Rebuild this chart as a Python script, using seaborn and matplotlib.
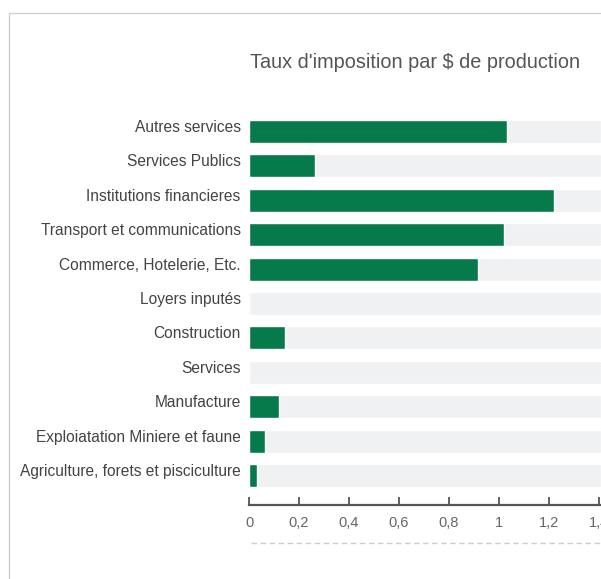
import matplotlib
matplotlib.use("Agg")
import matplotlib.pyplot as plt
import matplotlib.transforms as mtransforms
from matplotlib.patches import Rectangle
import seaborn as sns
import pandas as pd

# Tax rate per dollar of output, by sector
sectors = [
    "Autres services",
    "Services Publics",
    "Institutions financieres",
    "Transport et communications",
    "Commerce, Hotelerie, Etc.",
    "Loyers inputés",
    "Construction",
    "Services",
    "Manufacture",
    "Exploiatation Miniere et faune",
    "Agriculture, forets et pisciculture",
]
rates = [1.03, 0.265, 1.22, 1.02, 0.915, 0.0, 0.145, 0.0, 0.12, 0.063, 0.032]

tick_values = [0, 0.2, 0.4, 0.6, 0.8, 1.0, 1.2, 1.4]
tick_labels = ["0", "0,2", "0,4", "0,6", "0,8", "1", "1,2", "1,4"]

title = "Taux d'imposition par $ de production"

X_MAX = 1.408
GREEN = "#077a4c"
TRACK = "#f0f1f3"

sns.set_theme(style="white")
plt.rcParams["font.family"] = ["Liberation Sans", "DejaVu Sans"]

df = pd.DataFrame({"secteur": sectors, "taux": rates, "piste": [X_MAX] * len(sectors)})

W, H = 601, 579
fig = plt.figure(figsize=(W / 100, H / 100), dpi=100)
fig.patch.set_facecolor("white")

# outer card border
fig.add_artist(Rectangle((9 / W, -0.01), 1.0, 1 - 13 / H + 0.01,
                         transform=fig.transFigure, fill=False,
                         edgecolor="#cfcfcf", linewidth=1.0))

ax_left = 249 / W
ax_bottom = 1 - 505 / H
ax_top = 1 - 114.3 / H
ax = fig.add_axes([ax_left, ax_bottom, 1 - ax_left, ax_top - ax_bottom])

# background tracks, then the values on top
sns.barplot(data=df, x="piste", y="secteur", orient="h", color=TRACK,
            width=0.67, saturation=1, ax=ax)
sns.barplot(data=df, x="taux", y="secteur", orient="h", color=GREEN,
            width=0.67, saturation=1, ax=ax)

ax.set_xlim(0, X_MAX)
ax.set_ylim(len(sectors) - 1 + 0.86, -0.5)
ax.set_xlabel("")
ax.set_ylabel("")

for side in ["top", "right", "left"]:
    ax.spines[side].set_visible(False)
ax.spines["bottom"].set_color("#555555")
ax.spines["bottom"].set_linewidth(1.6)

ax.set_xticks(tick_values)
ax.set_xticklabels(tick_labels)
ax.tick_params(axis="x", direction="in", length=6, width=1.3, color="#555555",
               labelsize=10.5, labelcolor="#666666", pad=8, bottom=True)
ax.tick_params(axis="y", length=0, labelsize=11.2, labelcolor="#444444", pad=6)

shift = mtransforms.ScaledTranslation(0, 5.5 / 100, fig.dpi_scale_trans)
for lbl in ax.get_yticklabels():
    lbl.set_transform(lbl.get_transform() + shift)

fig.text(415.5 / W, 1 - 62 / H, title, ha="center", va="center",
         fontsize=14.3, color="#555555")

# dashed divider under the axis
fig.add_artist(plt.Line2D([251 / W, 1.0], [1 - 543 / H] * 2,
                          transform=fig.transFigure, color="#cccccc",
                          linewidth=1.0, linestyle=(0, (4, 2.5))))

fig.savefig("out.png", dpi=100)
